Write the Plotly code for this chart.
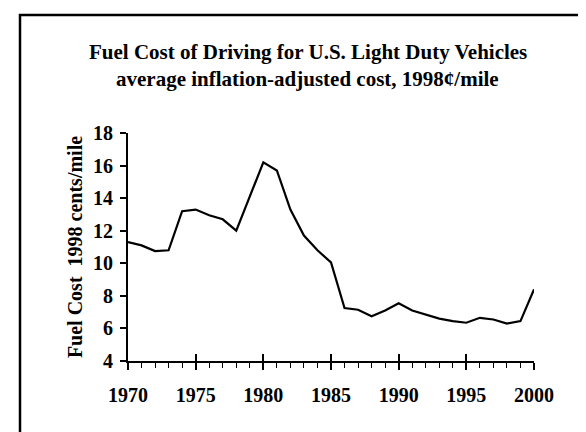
import plotly.graph_objects as go

years = list(range(1970, 2001))
cost = [11.3, 11.1, 10.75, 10.8, 13.2, 13.3, 12.95, 12.7, 12.0, 14.1,
        16.2, 15.7, 13.3, 11.7, 10.8, 10.05, 7.25, 7.15, 6.75, 7.1,
        7.55, 7.1, 6.85, 6.6, 6.45, 6.35, 6.65, 6.55, 6.3, 6.45, 8.4]

y_ticks = [4, 6, 8, 10, 12, 14, 16, 18]
x_ticks = [1970, 1975, 1980, 1985, 1990, 1995, 2000]

title1 = "Fuel Cost of Driving for U.S. Light Duty Vehicles"
title2 = "average inflation-adjusted cost, 1998¢/mile"

font = "Liberation Serif"
bold = dict(family=font, size=20, color="black", weight="bold")

fig = go.Figure()
fig.add_trace(go.Scatter(x=years, y=cost, mode="lines",
                         line=dict(color="black", width=2.2),
                         showlegend=False, hoverinfo="skip"))
# invisible trace so the second x axis exists (major ticks crossing the axis)
fig.add_trace(go.Scatter(x=[years[0], years[-1]], y=[cost[0], cost[-1]], mode="lines",
                         line=dict(width=0), xaxis="x2", showlegend=False, hoverinfo="skip"))

fig.update_layout(
    width=586, height=432,
    margin=dict(l=120, r=60, t=125, b=79),
    paper_bgcolor="white", plot_bgcolor="white",
    font=dict(family=font, color="black"),
    xaxis=dict(
        range=[1970, 2000], tickvals=x_ticks,
        showgrid=False, zeroline=False,
        showline=True, linecolor="black", linewidth=2,
        ticks="outside", ticklen=7, tickwidth=1.5, tickcolor="black",
        minor=dict(dtick=1, ticks="outside", ticklen=5, tickwidth=1.2, tickcolor="black"),
        tickfont=bold, ticklabelstandoff=8,
    ),
    xaxis2=dict(
        range=[1970, 2000], overlaying="x", side="bottom", anchor="y",
        tickvals=x_ticks, showticklabels=False, showgrid=False, zeroline=False,
        ticks="inside", ticklen=7, tickwidth=1.5, tickcolor="black", showline=False,
    ),
    yaxis=dict(
        range=[4, 18], tickvals=y_ticks,
        showgrid=False, zeroline=False,
        showline=True, linecolor="black", linewidth=2,
        ticks="outside", ticklen=6, tickwidth=1.5, tickcolor="black",
        tickfont=bold, ticklabelstandoff=3,
        title=dict(text="Fuel Cost  1998 cents/mile", standoff=5, font=bold),
    ),
    annotations=[
        dict(text=title1, xref="paper", yref="paper", x=0.443, y=1.355,
             xanchor="center", yanchor="middle", showarrow=False,
             font=dict(family=font, size=21, color="black", weight="bold")),
        dict(text=title2, xref="paper", yref="paper", x=0.443, y=1.237,
             xanchor="center", yanchor="middle", showarrow=False,
             font=dict(family=font, size=21, color="black", weight="bold")),
    ],
    shapes=[dict(type="rect", xref="paper", yref="paper",
                 x0=-0.266, x1=1.138, y0=-0.4, y1=1.5175,
                 line=dict(color="black", width=2.5))],
)

fig.write_html("out.html")
